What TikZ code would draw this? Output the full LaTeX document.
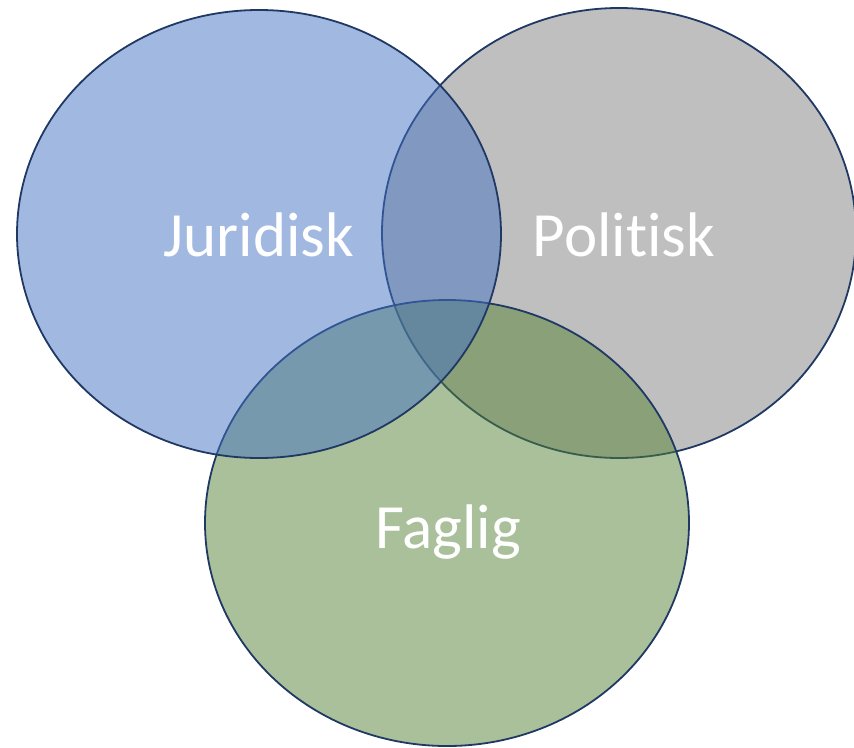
\documentclass[tikz,border=0pt]{standalone}
\usepackage{fontspec}
\setmainfont{Carlito}[Ligatures=NoCommon]
\definecolor{jurblue}{HTML}{4472C4}
\definecolor{polgray}{HTML}{7F7F7F}
\definecolor{fagreen}{HTML}{548235}
\definecolor{rim}{HTML}{1F3864}
\begin{document}
\begin{tikzpicture}[x=1pt,y=-1pt,
  setbox/.style={draw=rim, line width=1.8pt, fill opacity=0.5},
  setlabel/.style={text=white, anchor=base, inner sep=0pt, font=\fontsize{63}{75}\selectfont}]
  \useasboundingbox (0,0) rectangle (854,747);
  % three overlapping sets, translucent fills
  \path[setbox, fill=polgray] (619,233) ellipse [x radius=237, y radius=225];
  \path[setbox, fill=fagreen] (447,523) ellipse [x radius=242, y radius=223];
  \path[setbox, fill=jurblue] (259,234) ellipse [x radius=242, y radius=224];
  \node[setlabel] (jur) at (259,256) {Juridisk};
  \node[setlabel] (pol) at (624,256) {Politisk};
  \node[setlabel] (fag) at (448,548) {Faglig};
\end{tikzpicture}
\end{document}
